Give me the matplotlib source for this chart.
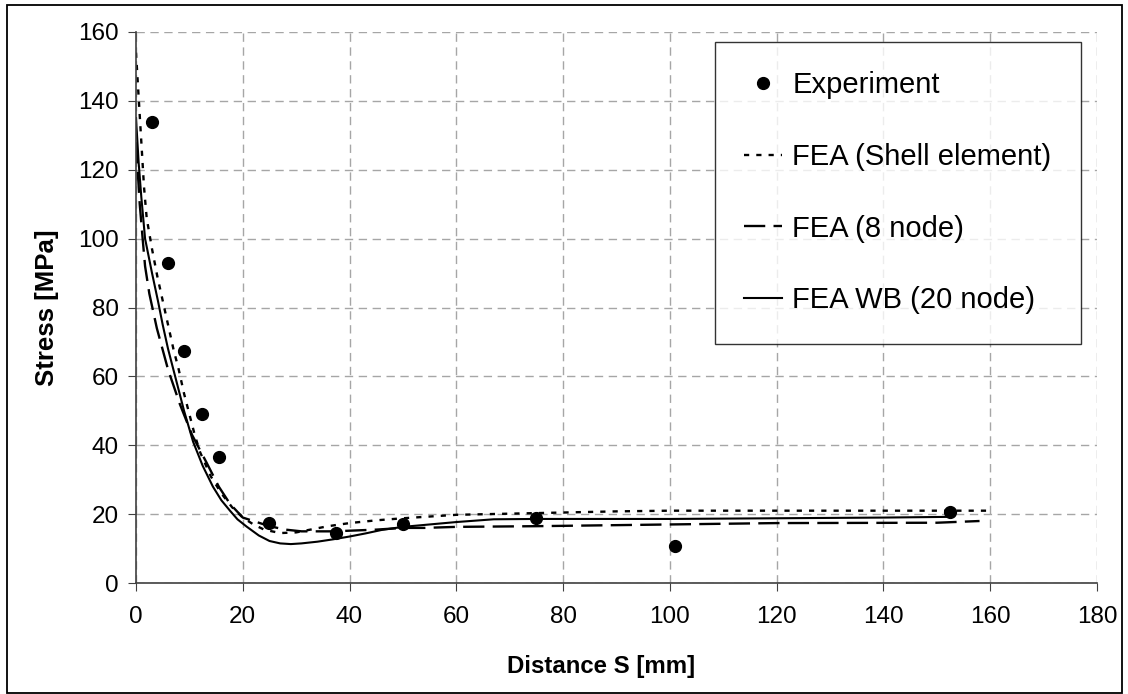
import numpy as np
import matplotlib.pyplot as plt
from matplotlib.patches import Rectangle

plt.rcParams['font.family'] = ['Liberation Sans', 'DejaVu Sans']

# experiment
exp_x = [3, 6, 9, 12.3, 15.5, 25, 37.5, 50, 75, 101, 152.5]
exp_y = [134, 93, 67.5, 49, 36.5, 17.5, 14.5, 17, 19, 10.7, 20.7]

# FEA (Shell element)
shell_x = [0, 0.5, 1, 1.5, 2, 3, 4, 5, 6, 7, 8, 9, 10, 11, 12, 14, 16, 18, 20, 22, 24,
           27, 30, 33, 36, 40, 45, 50, 60, 75, 90, 100, 120, 140, 160]
shell_y = [154, 141, 128, 115, 106, 97, 89, 82, 75, 68, 62, 55, 49, 43, 38, 31, 26, 22, 19, 17, 15.5,
           14.5, 14.7, 15.6, 16.5, 17.4, 18.2, 18.8, 19.8, 20.3, 20.8, 21, 21, 21, 21]

# FEA (8 node)
node8_x = [0, 0.7, 1.3, 1.7, 2.5, 3.9, 6, 8.2, 10.5, 13.2, 15.5, 17.6, 20, 25, 28, 31, 37, 45,
           50, 54, 60, 75, 100, 120, 150, 158]
node8_y = [128, 110, 99, 92, 84, 74, 62, 52, 43, 35, 28, 23, 19, 16.5, 15.5, 15, 15, 15.5,
           16, 16, 16.3, 16.5, 17, 17.4, 17.5, 18]

# FEA WB (20 node)
wb_x = [0, 0.5, 1, 1.7, 3, 4.1, 5, 6, 7, 8, 9, 10.7, 12.5, 14.4, 16, 17.6, 19, 20.7, 23, 25,
        27, 29, 31, 34, 37, 40, 43, 46, 50, 55, 60, 67, 75, 100, 120, 140, 152]
wb_y = [135, 122, 112, 100, 90, 82, 75, 68, 62, 56, 50, 41, 34, 28, 24, 21, 18.5, 16.4, 13.8, 12.2,
        11.5, 11.3, 11.5, 12, 12.7, 13.5, 14.4, 15.4, 16.3, 17, 17.7, 18.5, 18.6, 18.6, 18.8, 19, 19.2]

fig = plt.figure(figsize=(11.28, 6.94), dpi=100)
ax = fig.add_axes([136 / 1128, 1 - 583 / 694, (1097 - 136) / 1128, (583 - 32) / 694])

ax.plot(exp_x, exp_y, 'o', color='k', markersize=8.5, label='Experiment', zorder=5)
ax.plot(shell_x, shell_y, color='k', lw=1.7, linestyle=(0, (2.2, 3.0)), label='FEA (Shell element)')
ax.plot(node8_x, node8_y, color='k', lw=1.7, linestyle=(0, (9, 3.5)), label='FEA (8 node)')
ax.plot(wb_x, wb_y, color='k', lw=1.5, label='FEA WB (20 node)')

ax.set_xlim(0, 180)
ax.set_ylim(0, 160)
ax.set_xticks(np.arange(0, 181, 20))
ax.set_yticks(np.arange(0, 161, 20))
ax.grid(True, color='#a6a6a6', linestyle=(0, (6, 4)), lw=1)
ax.set_axisbelow(True)
for s in ['top', 'right']:
    ax.spines[s].set_visible(False)
for s in ['left', 'bottom']:
    ax.spines[s].set_color('#404040')
    ax.spines[s].set_linewidth(1.2)
ax.tick_params(labelsize=17.5, length=5.5, color='#404040')
ax.tick_params(axis='x', pad=11)
ax.tick_params(axis='y', pad=7)
ax.set_xlabel('Distance S [mm]', fontsize=17.3, fontweight='bold', va='center')
ax.set_ylabel('Stress [MPa]', fontsize=18.5, fontweight='bold', va='center')
ax.xaxis.set_label_coords(0.484, -0.152)
ax.yaxis.set_label_coords(-0.093, 0.5)

leg = ax.legend(loc='upper left', bbox_to_anchor=(715 / 1128, 1 - 42 / 694),
                bbox_transform=fig.transFigure, fontsize=21, frameon=True,
                fancybox=False, edgecolor='k', labelspacing=1.5, handlelength=1.3,
                handletextpad=0.35, borderpad=1.0, borderaxespad=0)
leg.get_frame().set_linewidth(1.0)

# outer chart border
fig.patches.append(Rectangle((6.5 / 1128, 1.5 / 694), 1115 / 1128, 687.5 / 694,
                             transform=fig.transFigure, fill=False, edgecolor='k', lw=1.3))

fig.savefig('out.png', dpi=100)
